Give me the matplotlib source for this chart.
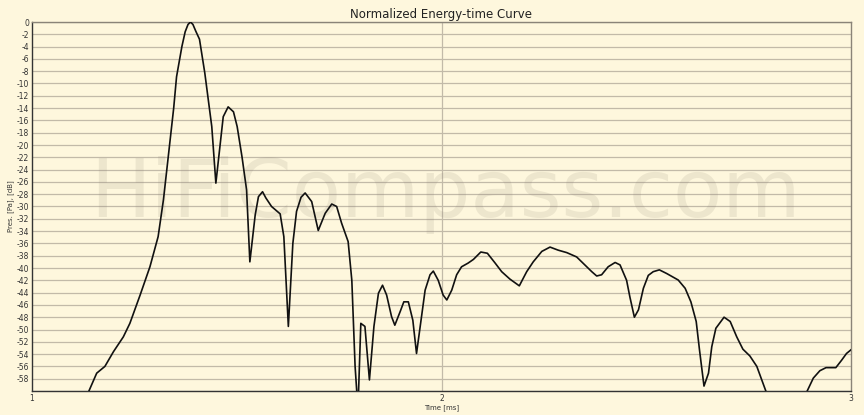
import matplotlib
matplotlib.use("Agg")
import matplotlib.pyplot as plt
import numpy as np

time_ms = [1.132, 1.139, 1.158, 1.178, 1.199, 1.223, 1.239, 1.264, 1.288, 1.308,
           1.321, 1.330, 1.337, 1.346, 1.353, 1.366, 1.374, 1.381, 1.387, 1.393,
           1.400, 1.409, 1.422, 1.439, 1.449, 1.467, 1.479, 1.492, 1.501, 1.513,
           1.524, 1.532, 1.545, 1.553, 1.563, 1.571, 1.585, 1.606, 1.615, 1.626,
           1.637, 1.646, 1.657, 1.667, 1.683, 1.699, 1.716, 1.732, 1.744, 1.756,
           1.772, 1.781, 1.789, 1.796, 1.803, 1.813, 1.824, 1.835, 1.846, 1.856,
           1.866, 1.878, 1.886, 1.899, 1.908, 1.919, 1.930, 1.939, 1.949, 1.960,
           1.972, 1.980, 1.992, 2.004, 2.013, 2.025, 2.037, 2.049, 2.065, 2.078,
           2.096, 2.112, 2.131, 2.147, 2.167, 2.190, 2.208, 2.224, 2.245, 2.265,
           2.285, 2.306, 2.330, 2.350, 2.367, 2.379, 2.391, 2.407, 2.424, 2.436,
           2.452, 2.460, 2.471, 2.481, 2.493, 2.505, 2.517, 2.532, 2.550, 2.578,
           2.595, 2.609, 2.622, 2.630, 2.641, 2.652, 2.660, 2.670, 2.690, 2.705,
           2.721, 2.736, 2.753, 2.770, 2.782, 2.792, 2.841, 2.893, 2.908, 2.924,
           2.939, 2.963, 2.977, 2.989, 3.000]

level_db = [-61.5, -60.0, -57.1, -56.0, -53.6, -51.2, -49.0, -44.4, -39.8, -34.9,
            -28.9, -23.5, -19.2, -14.0, -8.9, -4.0, -1.6, -0.4, 0.0, -0.4,
            -1.5, -2.8, -8.3, -17.0, -26.2, -15.4, -13.8, -14.6, -17.0, -22.0,
            -27.3, -39.0, -31.4, -28.4, -27.6, -28.6, -30.0, -31.2, -34.9, -49.5,
            -36.0, -30.8, -28.5, -27.8, -29.2, -33.9, -31.1, -29.6, -30.0, -32.7,
            -35.7, -42.0, -56.0, -63.0, -49.0, -49.5, -58.2, -49.5, -44.1, -42.8,
            -44.4, -47.9, -49.3, -47.1, -45.5, -45.5, -48.5, -53.9, -49.0, -43.6,
            -41.1, -40.5, -42.0, -44.4, -45.2, -43.6, -41.1, -39.8, -39.2, -38.6,
            -37.4, -37.6, -39.2, -40.6, -41.8, -42.9, -40.6, -39.0, -37.3, -36.6,
            -37.1, -37.5, -38.2, -39.5, -40.6, -41.3, -41.1, -39.8, -39.1, -39.5,
            -42.0, -44.7, -48.0, -46.8, -43.3, -41.2, -40.6, -40.3, -40.9, -41.95,
            -43.3, -45.5, -48.7, -53.3, -59.2, -57.1, -52.8, -49.8, -48.0, -48.7,
            -51.2, -53.2, -54.3, -56.0, -58.2, -60.0, -68.0, -60.0, -57.9, -56.7,
            -56.2, -56.2, -55.0, -53.9, -53.3]

y_ticks = list(range(0, -60, -2))
x_ticks = [1, 2, 3]

bg = "#FEF7DD"
fig = plt.figure(figsize=(8.64, 4.15), dpi=100, facecolor=bg)
ax = fig.add_axes([32/864, 1 - 391/415, (851 - 32)/864, (391 - 22)/415])
ax.set_facecolor(bg)

for yv in range(0, -61, -2):
    ax.axhline(yv, color="#C2BAA8", lw=0.9, zorder=1)
ax.axvline(2, color="#C2BAA8", lw=0.9, zorder=1)

ax.text(0.505, 0.53, "HiFiCompass.com", transform=ax.transAxes, ha="center", va="center",
        fontsize=58, color="#8a8070", alpha=0.14, family="DejaVu Sans", zorder=2)

ax.plot(time_ms, level_db, color="#111111", lw=1.2, zorder=3, solid_joinstyle="round")

ax.set_xlim(1, 3)
ax.set_ylim(-60, 0)
ax.set_yticks(y_ticks)
ax.set_yticklabels([str(v) for v in y_ticks])
ax.set_xticks(x_ticks)
ax.set_xticklabels([str(v) for v in x_ticks])
ax.tick_params(axis="both", length=0, labelsize=5.5, colors="#333333", pad=2)

for s in ["left", "bottom"]:
    ax.spines[s].set_color("#333333")
    ax.spines[s].set_linewidth(1.0)
for s in ["top", "right"]:
    ax.spines[s].set_color("#8a8478")
    ax.spines[s].set_linewidth(1.0)

ax.set_title("Normalized Energy-time Curve", fontsize=8.5, color="#222222", pad=3)
ax.set_xlabel("Time [ms]", fontsize=5, color="#333333", labelpad=1)
ax.set_ylabel("Pres. [Pa], [dB]", fontsize=5, color="#333333", labelpad=2)

fig.savefig("out.png", dpi=100, facecolor=bg)
